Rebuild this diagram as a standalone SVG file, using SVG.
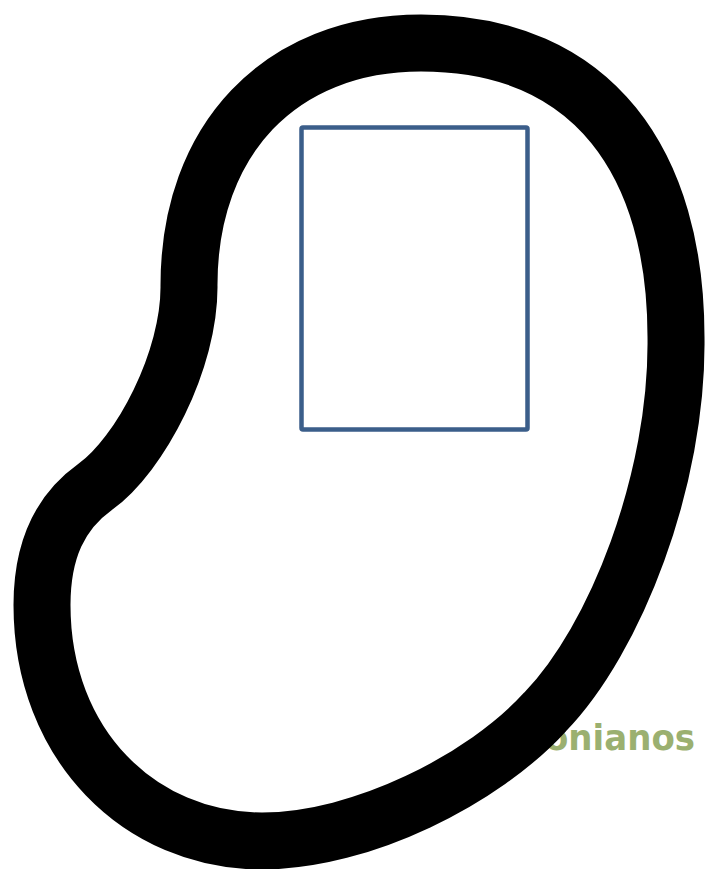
<svg xmlns="http://www.w3.org/2000/svg" width="706" height="869" viewBox="0 0 706 869">
  <style>
    .bean { fill: none; stroke: #000000; stroke-width: 57; stroke-linejoin: round; }
    .box { fill: none; stroke: #3b5e8a; stroke-width: 4.5; stroke-linejoin: round; }
    .label { font-family: "DejaVu Sans", "Liberation Sans", sans-serif; font-weight: bold; font-size: 36px; fill: #9bb070; }
  </style>
  <rect x="0" y="0" width="706" height="869" fill="#ffffff"/>
  <g id="label">
    <text class="label" x="545" y="750" textLength="150" lengthAdjust="spacingAndGlyphs">onianos</text>
  </g>
  <g id="bean">
    <path class="bean" d="M421,43 C595,43 676,165 676,337 C678,480 615,640 545,712 C484,779 362,841 262,841 C140,841 42,745 42,605 C42,550 60,512 95,487 C140,455 190,360 189,285 C189,140 280,43 421,43 Z"/>
  </g>
  <g id="box">
    <rect class="box" x="301.5" y="127.5" width="226" height="302" rx="1.5"/>
  </g>
</svg>
